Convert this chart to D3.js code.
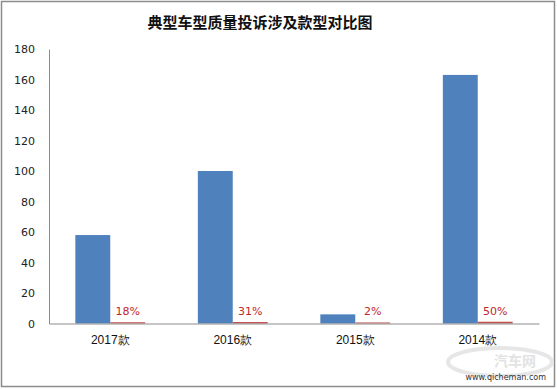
<!DOCTYPE html>
<html>
<head>
<meta charset="utf-8">
<script src="https://cdn.jsdelivr.net/npm/d3@7"></script>
<style>
  body { margin: 0; background: #fff; }
  svg { display: block; font-family: "Noto Sans CJK SC", "DejaVu Sans", sans-serif; }
</style>
</head>
<body>
<div id="chart"></div>
<script>
// data
var categories = ["2017款", "2016款", "2015款", "2014款"];
var complaints = [58, 100, 6, 163];
var shares = [0.18, 0.31, 0.02, 0.50];
var yTicks = [0, 20, 40, 60, 80, 100, 120, 140, 160, 180];

var width = 557;
var height = 389;
var padding = { top: 49, right: 16, bottom: 65, left: 49 };

var svg = d3.select("#chart")
    .append("svg")
    .attr("width", width)
    .attr("height", height);

// outer frame
svg.append("rect")
    .attr("x", 1.5).attr("y", 1.5)
    .attr("width", width - 4).attr("height", height - 4)
    .attr("fill", "#fff")
    .attr("stroke", "#8c8c8c")
    .attr("stroke-width", 1.5);

svg.append("text")
    .attr("x", 260)
    .attr("y", 28)
    .attr("text-anchor", "middle")
    .attr("font-size", 15)
    .attr("font-weight", "bold")
    .attr("fill", "#111")
    .text("典型车型质量投诉涉及款型对比图");

var xScale = d3.scaleBand()
    .domain(categories)
    .range([padding.left, width - padding.right - 2])
    .paddingInner(0.43)
    .paddingOuter(0.215);

var yScale = d3.scaleLinear()
    .domain([0, 180])
    .range([height - padding.bottom - 0.5, padding.top]);

var barW = xScale.bandwidth() / 2;

// y axis
var yAxis = d3.axisLeft(yScale)
    .tickValues(yTicks)
    .tickSize(0)
    .tickPadding(14);

var gy = svg.append("g")
    .attr("transform", "translate(" + padding.left + ",0)")
    .call(yAxis);
gy.select(".domain").attr("stroke", "#8c8c8c");
gy.selectAll("text")
    .attr("font-family", "DejaVu Sans, sans-serif")
    .attr("font-size", 11)
    .attr("fill", "#222");

// bars
svg.append("g")
    .selectAll("rect")
    .data(complaints)
    .enter()
    .append("rect")
    .attr("x", function(d, i){ return xScale(categories[i]); })
    .attr("y", function(d){ return yScale(d); })
    .attr("width", barW)
    .attr("height", function(d){ return yScale(0) - yScale(d); })
    .attr("fill", "#4f81bd");

svg.append("g")
    .selectAll("rect")
    .data(shares)
    .enter()
    .append("rect")
    .attr("x", function(d, i){ return xScale(categories[i]) + barW; })
    .attr("y", function(d){ return yScale(d) - 1; })
    .attr("width", barW)
    .attr("height", function(d){ return yScale(0) - yScale(d) + 1; })
    .attr("fill", "#c0504d");

svg.append("g")
    .selectAll("text")
    .data(shares)
    .enter()
    .append("text")
    .attr("x", function(d, i){ return xScale(categories[i]) + barW * 1.5; })
    .attr("y", function(d){ return yScale(d) - 8; })
    .attr("text-anchor", "middle")
    .attr("font-family", "DejaVu Sans, sans-serif")
    .attr("font-size", 11)
    .attr("fill", "#c0262b")
    .text(function(d){ return Math.round(d * 100) + "%"; });

// x axis
var xAxis = d3.axisBottom(xScale)
    .tickSize(0)
    .tickPadding(12);

var gx = svg.append("g")
    .attr("transform", "translate(0," + yScale(0) + ")")
    .call(xAxis);
gx.select(".domain").attr("stroke", "#8c8c8c");
gx.selectAll("text")
    .attr("font-size", 12)
    .attr("fill", "#111");

// watermark
svg.append("ellipse")
    .attr("cx", 500).attr("cy", 362)
    .attr("rx", 52).attr("ry", 14)
    .attr("fill", "none")
    .attr("stroke", "#e6e6e6")
    .attr("stroke-width", 4);
svg.append("text")
    .attr("x", 515).attr("y", 366)
    .attr("text-anchor", "middle")
    .attr("font-size", 14)
    .attr("font-weight", "bold")
    .attr("fill", "#e3e3e3")
    .text("汽车网");
svg.append("text")
    .attr("x", 546).attr("y", 380)
    .attr("text-anchor", "end")
    .attr("font-family", "DejaVu Sans, sans-serif")
    .attr("font-size", 8)
    .attr("fill", "#333")
    .text("www.qicheman.com");
</script>
</body>
</html>
